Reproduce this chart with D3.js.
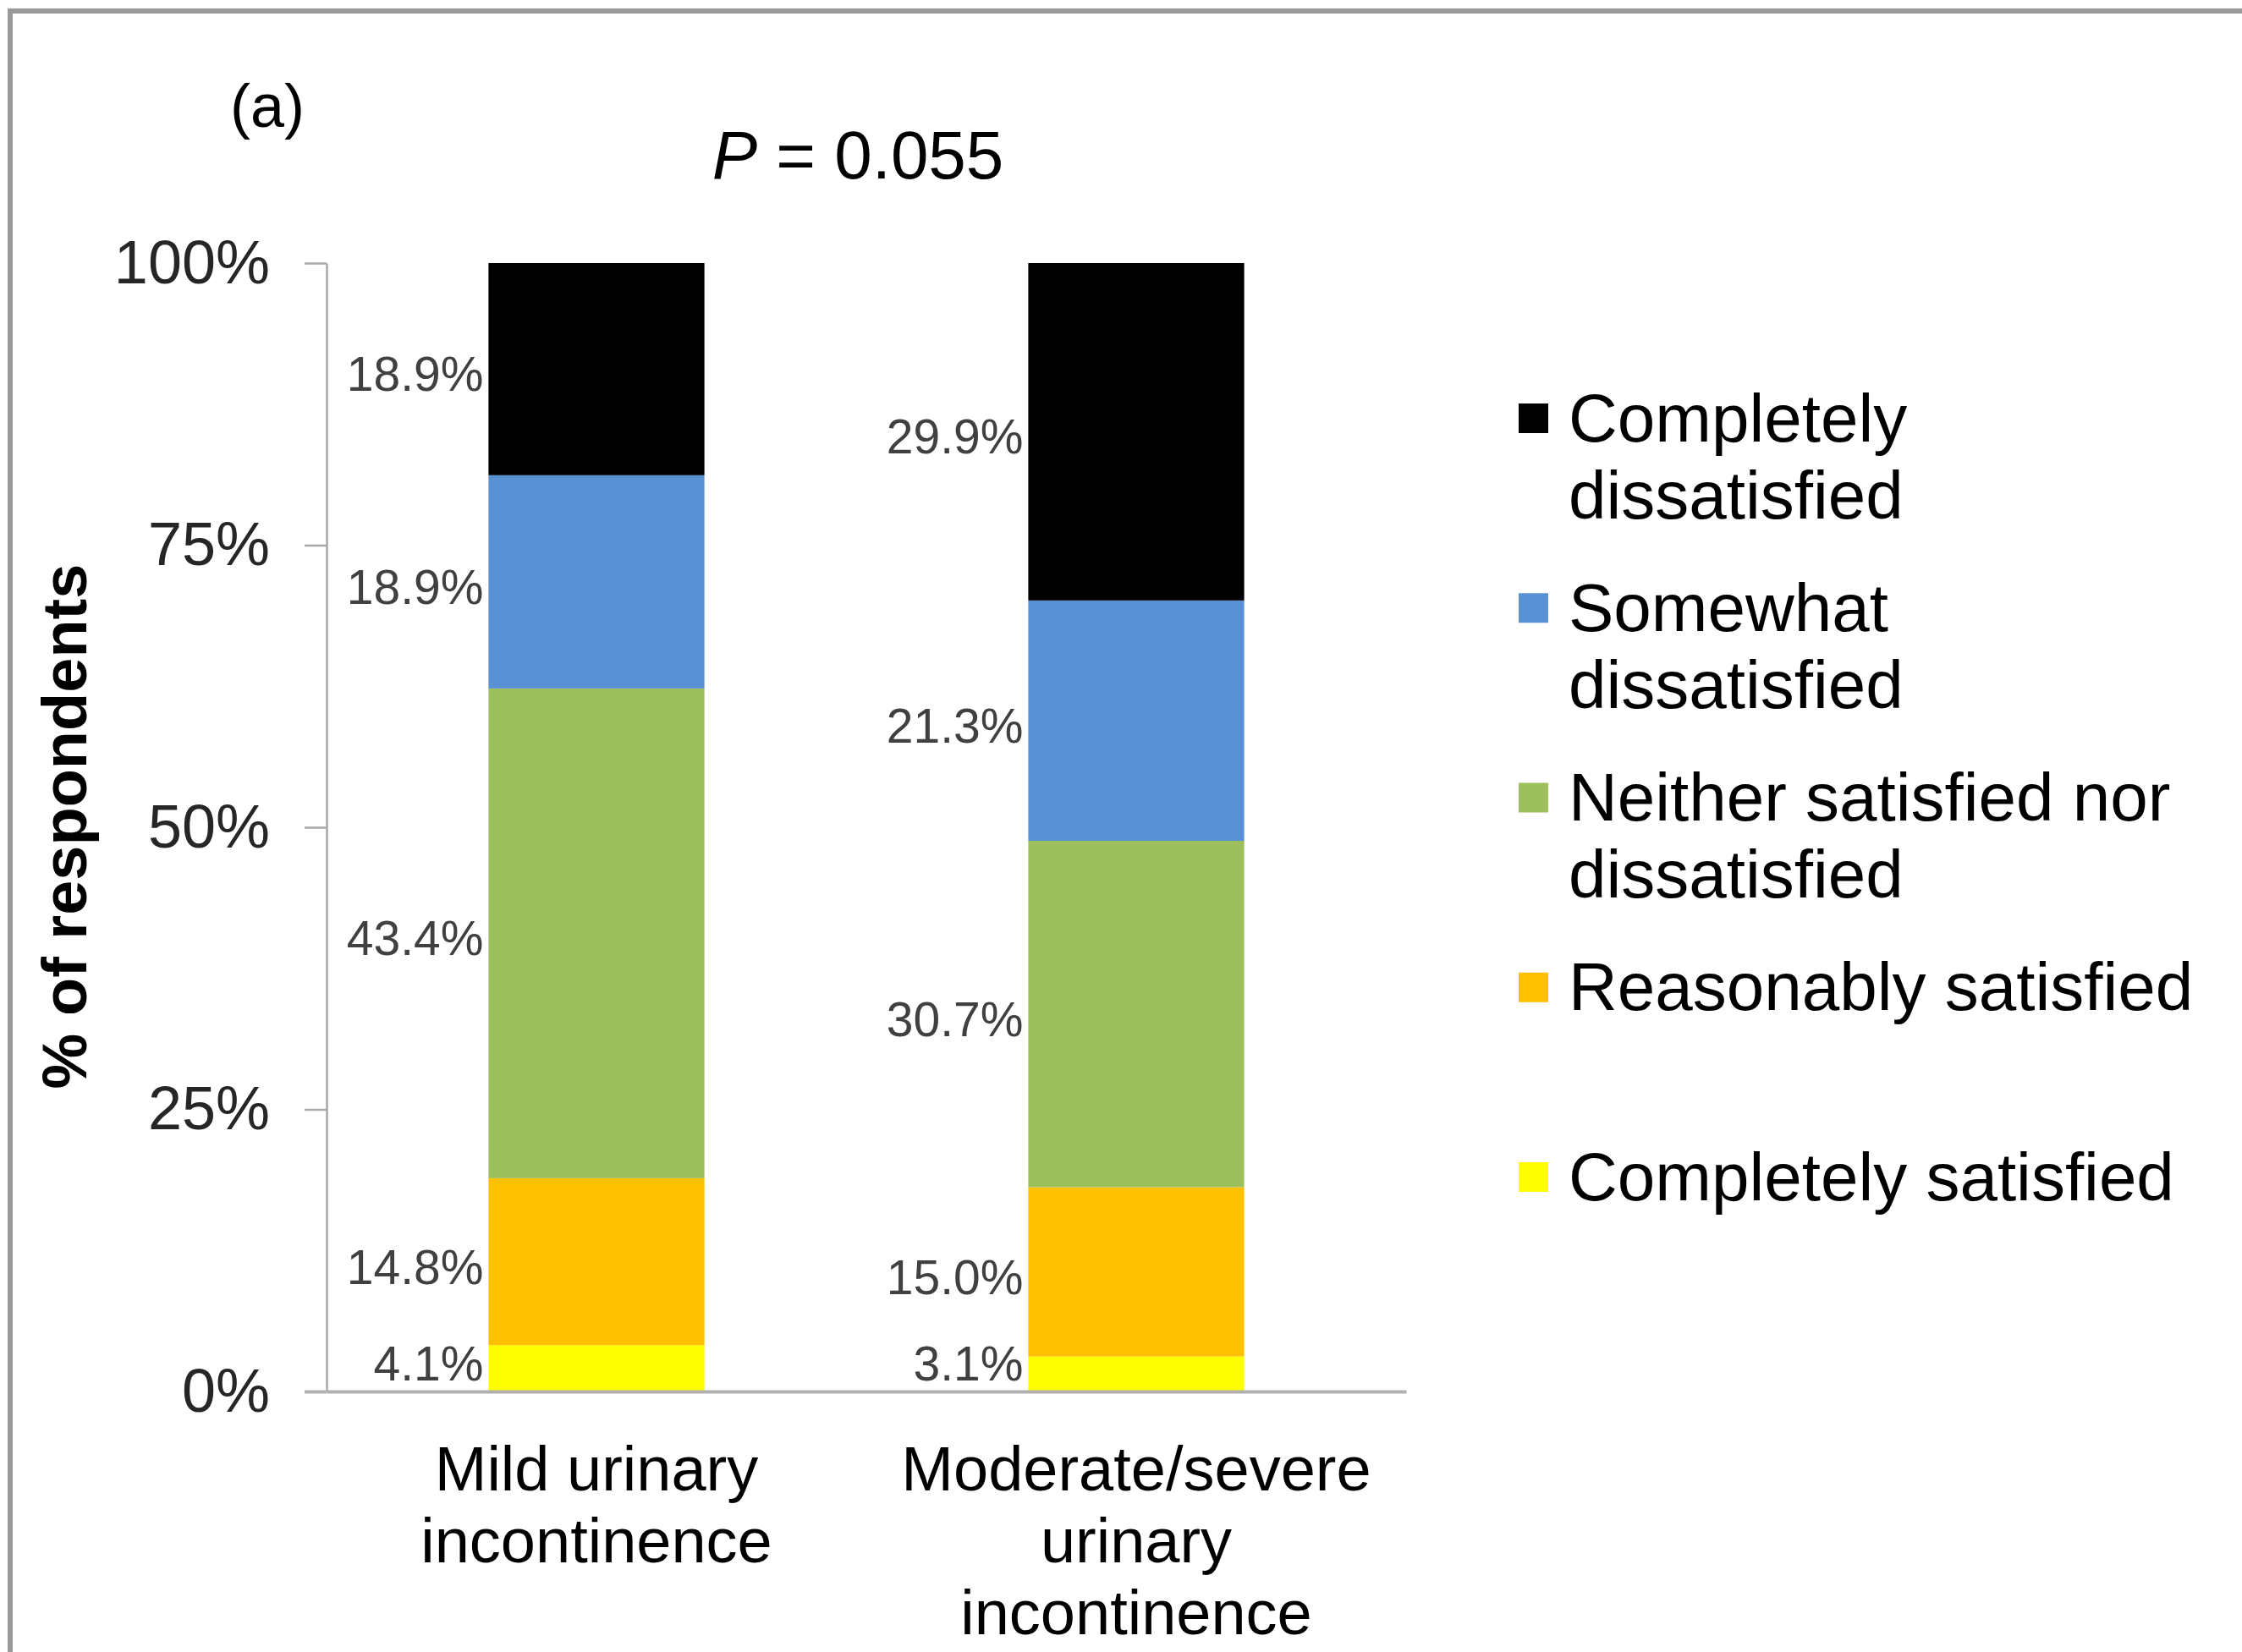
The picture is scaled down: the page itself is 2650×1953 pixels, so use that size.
<!DOCTYPE html>
<html>
<head>
<meta charset="utf-8">
<script src="https://cdn.jsdelivr.net/npm/d3@7"></script>
<style>
  html, body { margin: 0; padding: 0; background: #ffffff; }
  svg { display: block; font-family: "Liberation Sans", Arial, sans-serif; }
</style>
</head>
<body>
<svg id="chart" width="2650" height="1953"></svg>
<script>
// ---- data ----
const categories = ["Mild urinary incontinence", "Moderate/severe urinary incontinence"];
const categoryLines = [["Mild urinary", "incontinence"], ["Moderate/severe", "urinary", "incontinence"]];
const seriesNames = ["Completely satisfied", "Reasonably satisfied", "Neither satisfied nor dissatisfied", "Somewhat dissatisfied", "Completely dissatisfied"];
const completelySatisfied = [4.1, 3.1];
const reasonablySatisfied = [14.8, 15.0];
const neither = [43.4, 30.7];
const somewhatDissatisfied = [18.9, 21.3];
const completelyDissatisfied = [18.9, 29.9];
const legendOrder = ["Completely dissatisfied", "Somewhat dissatisfied", "Neither satisfied nor dissatisfied", "Reasonably satisfied", "Completely satisfied"];
const legendLines = [["Completely", "dissatisfied"], ["Somewhat", "dissatisfied"], ["Neither satisfied nor", "dissatisfied"], ["Reasonably satisfied"], ["Completely satisfied"]];
const yTicks = [0, 25, 50, 75, 100];
const panelLabel = "(a)";
const pValue = "0.055";
const yTitle = "% of respondents";

// ---- styles ----
const colors = {
  "Completely satisfied": "#FFFF00",
  "Reasonably satisfied": "#FFC000",
  "Neither satisfied nor dissatisfied": "#9DBF5E",
  "Somewhat dissatisfied": "#5A91D4",
  "Completely dissatisfied": "#000000"
};
const seriesValues = [completelySatisfied, reasonablySatisfied, neither, somewhatDissatisfied, completelyDissatisfied];

const table = categories.map((c, i) => {
  const row = { category: c };
  seriesNames.forEach((s, j) => { row[s] = seriesValues[j][i]; });
  return row;
});

const svg = d3.select("#chart");

// frame
svg.append("rect").attr("x", 12).attr("y", 13).attr("width", 2700).attr("height", 2000)
  .attr("fill", "none").attr("stroke", "#9a9a9a").attr("stroke-width", 6);

const x = d3.scaleBand().domain(categories).range([386, 1662]).paddingInner(0).paddingOuter(0);
const y = d3.scaleLinear().domain([0, 100]).range([1645, 311]);
const barW = x.bandwidth() * 0.4;

const stack = d3.stack().keys(seriesNames);
const layers = stack(table);

// y axis
const yAxis = d3.axisLeft(y).tickValues(yTicks).tickFormat(d => d + "%").tickSize(26).tickSizeOuter(0).tickPadding(41);
const gy = svg.append("g").attr("transform", "translate(386,0)").call(yAxis);
gy.select(".domain").attr("stroke", "#a8a8a8").attr("stroke-width", 2.5);
gy.selectAll(".tick line").attr("stroke", "#a8a8a8").attr("stroke-width", 2.5);
gy.selectAll(".tick text").attr("font-size", 72).attr("fill", "#262626")
  .attr("font-family", "Liberation Sans, Arial, sans-serif");

// bars
const gBars = svg.append("g");
layers.forEach(layer => {
  gBars.selectAll(null).data(layer).enter().append("rect")
    .attr("x", d => x(d.data.category) + (x.bandwidth() - barW) / 2)
    .attr("y", d => y(Math.min(d[1], 100)))
    .attr("width", barW)
    .attr("height", d => y(d[0]) - y(Math.min(d[1], 100)))
    .attr("fill", colors[layer.key]);
});

// x axis baseline (extends under bars)
const xAxis = d3.axisBottom(x).tickSize(0).tickSizeOuter(0).tickFormat("");
const gx = svg.append("g").attr("transform", "translate(0,1645)").call(xAxis);
gx.select(".domain").attr("stroke", "#b0b0b0").attr("stroke-width", 4);
gy.raise();
gy.selectAll(".tick").filter(d => d === 0).select("line").attr("stroke", "#b0b0b0").attr("stroke-width", 4);

// category labels
categories.forEach((c, i) => {
  const t = svg.append("text").attr("x", x(c) + x.bandwidth() / 2).attr("y", 1736)
    .attr("text-anchor", "middle").attr("font-size", 74).attr("fill", "#000");
  categoryLines[i].forEach((ln, k) => {
    t.append("tspan").attr("x", x(c) + x.bandwidth() / 2).attr("y", 1736 + k * 85)
      .attr("dominant-baseline", "central").text(ln);
  });
});

// data labels
layers.forEach(layer => {
  svg.selectAll(null).data(layer).enter().append("text")
    .attr("x", d => x(d.data.category) + (x.bandwidth() - barW) / 2 - 6)
    .attr("y", d => Math.min((y(d[0]) + y(Math.min(d[1], 100))) / 2 + 6, y(0) - 33))
    .attr("text-anchor", "end")
    .attr("dominant-baseline", "central")
    .attr("font-size", 57)
    .attr("fill", "#404040")
    .text(d => d.data[layer.key].toFixed(1) + "%");
});

// y title
svg.append("text").attr("transform", "translate(76,977) rotate(-90)")
  .attr("text-anchor", "middle").attr("dominant-baseline", "central")
  .attr("font-size", 74).attr("font-weight", "bold").attr("fill", "#000").text(yTitle);

// panel label & p value
svg.append("text").attr("x", 316).attr("y", 125).attr("text-anchor", "middle")
  .attr("dominant-baseline", "central").attr("font-size", 72).attr("fill", "#000").text(panelLabel);
const pt = svg.append("text").attr("x", 1014).attr("y", 183).attr("text-anchor", "middle")
  .attr("dominant-baseline", "central").attr("font-size", 80).attr("fill", "#000");
pt.append("tspan").attr("font-style", "italic").text("P");
pt.append("tspan").text(" = " + pValue);

// legend
const legendY = d3.scalePoint().domain(legendOrder).range([494, 1391]);
legendOrder.forEach((name, i) => {
  const cy = legendY(name);
  svg.append("rect").attr("x", 1795).attr("y", cy - 17).attr("width", 35).attr("height", 35)
    .attr("fill", colors[name]);
  const t = svg.append("text").attr("font-size", 80).attr("fill", "#000");
  legendLines[i].forEach((ln, k) => {
    t.append("tspan").attr("x", 1854).attr("y", cy + k * 91).attr("dominant-baseline", "central").text(ln);
  });
});
</script>
</body>
</html>
